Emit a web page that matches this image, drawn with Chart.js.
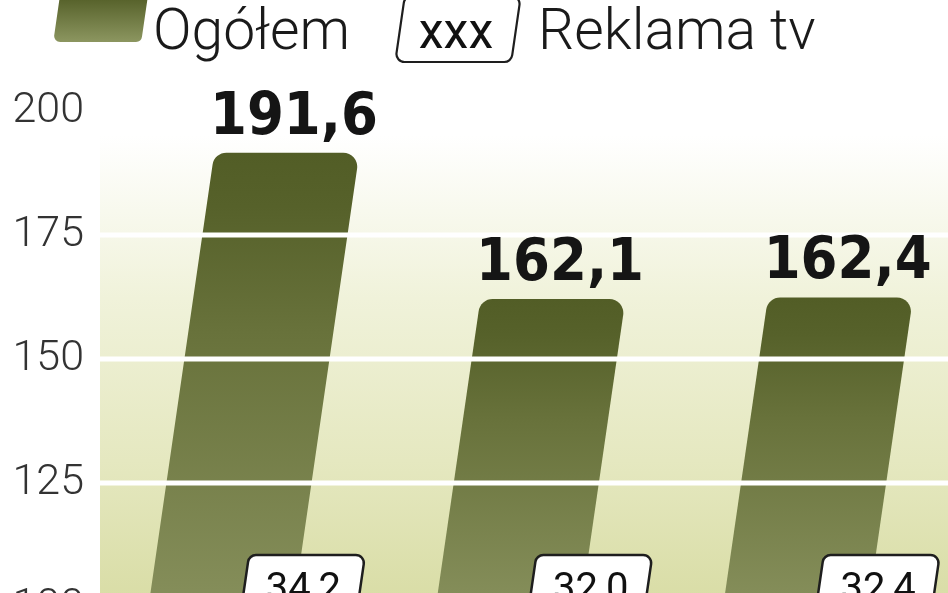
<!DOCTYPE html>
<html>
<head>
<meta charset="utf-8">
<script src="https://cdn.jsdelivr.net/npm/chart.js@4.4.1/dist/chart.umd.min.js"></script>
<style>
  html, body { margin: 0; padding: 0; background: #fff; overflow: hidden; }
  #wrap { width: 948px; height: 593px; overflow: hidden; }
</style>
</head>
<body>
<div id="wrap"><canvas id="chart"></canvas></div>
<script>
// data
const periods = ['okres 1', 'okres 2', 'okres 3']
const ogolem = [191.6, 162.1, 162.4]
const reklamaTv = [34.2, 32.0, 32.4]
const yTicks = [100, 125, 150, 175, 200]
const legendLabels = ['Ogółem', 'Reklama tv']

const SLANT = 0.145
const fmt = (v) => v.toFixed(1).replace('.', ',')

function roundedPoly(ctx, pts, r) {
  const n = pts.length
  ctx.beginPath()
  ctx.moveTo((pts[0].x + pts[n - 1].x) / 2, (pts[0].y + pts[n - 1].y) / 2)
  for (let i = 0; i < n; i++) {
    const p = pts[i]
    const q = pts[(i + 1) % n]
    ctx.arcTo(p.x, p.y, q.x, q.y, r[i])
  }
  ctx.closePath()
}

// slanted parallelogram, centre line given by cAt(y)
function slantPts(cAt, half, top, bottom) {
  return [
    { x: cAt(bottom) - half, y: bottom },
    { x: cAt(top) - half, y: top },
    { x: cAt(top) + half, y: top },
    { x: cAt(bottom) + half, y: bottom },
  ]
}

const decor = {
  id: 'decor',
  beforeDatasetsDraw(chart) {
    const { ctx } = chart
    const g = ctx.createLinearGradient(0, 135, 0, 600)
    g.addColorStop(0, '#ffffff')
    g.addColorStop(0.35, '#f0f2da')
    g.addColorStop(0.7, '#e5e8c0')
    g.addColorStop(1, '#d9dda6')
    ctx.save()
    ctx.fillStyle = g
    ctx.fillRect(100, 135, chart.width - 100, chart.height - 135)
    ctx.restore()
  },
  afterDatasetsDraw(chart) {
    const { ctx, chartArea } = chart
    const meta = chart.getDatasetMeta(0)
    const yScale = chart.scales.y
    const yRef = chartArea.bottom - 60

    ctx.save()
    // slanted bars, each with its own dark-to-light gradient
    meta.data.forEach((el) => {
      const half = el.width / 2
      const cAt = (yy) => el.x + SLANT * (yRef - yy)
      const pts = slantPts(cAt, half, el.y, chart.height + 20)
      const bg = ctx.createLinearGradient(0, el.y, 0, 600)
      bg.addColorStop(0, '#525d26')
      bg.addColorStop(0.12, '#56612a')
      bg.addColorStop(0.4, '#68723b')
      bg.addColorStop(1, '#858e5a')
      roundedPoly(ctx, pts, [0, 14, 14, 0])
      ctx.fillStyle = bg
      ctx.fill()
    })

    // white grid lines over the bars
    ctx.strokeStyle = '#ffffff'
    ctx.lineWidth = 5
    yTicks.forEach((t) => {
      const py = Math.round(yScale.getPixelForValue(t))
      ctx.beginPath()
      ctx.moveTo(100, py)
      ctx.lineTo(chart.width, py)
      ctx.stroke()
    })

    // value labels
    ctx.fillStyle = '#151515'
    ctx.textAlign = 'center'
    ctx.textBaseline = 'alphabetic'
    ctx.font = "bold 59px 'DejaVu Sans Condensed', 'DejaVu Sans', sans-serif"
    meta.data.forEach((el, i) => {
      const cAt = (yy) => el.x + SLANT * (yRef - yy)
      const ly = el.y - 19
      ctx.fillText(fmt(ogolem[i]), cAt(ly - 30), ly)
    })

    // Reklama tv boxes on the right edge of each bar
    meta.data.forEach((el, i) => {
      const half = el.width / 2
      const boxTop = 555
      const boxMid = 580
      const bx = el.x + SLANT * (yRef - boxMid) + half + 6
      const cAt = (yy) => bx + SLANT * (boxMid - yy)
      const pts = slantPts(cAt, 58, boxTop, boxTop + 50)
      roundedPoly(ctx, pts, [8, 8, 8, 8])
      ctx.fillStyle = '#ffffff'
      ctx.fill()
      ctx.lineWidth = 2.5
      ctx.strokeStyle = '#1e1e1e'
      ctx.stroke()
      ctx.fillStyle = '#111'
      ctx.font = "400 40px Roboto, sans-serif"
      ctx.fillText(fmt(reklamaTv[i]), bx, 601)
    })

    // legend
    const sw = ctx.createLinearGradient(0, 0, 0, 42)
    sw.addColorStop(0, '#58632c')
    sw.addColorStop(1, '#8c9660')
    const swC = (yy) => 101 + SLANT * (16 - yy)
    roundedPoly(ctx, slantPts(swC, 44, -12, 42), [6, 6, 6, 6])
    ctx.fillStyle = sw
    ctx.fill()

    ctx.textAlign = 'left'
    ctx.fillStyle = '#1a1a1a'
    ctx.font = "300 57px Roboto, sans-serif"
    ctx.fillText(legendLabels[0], 153, 49)

    const bxC = (yy) => 458 + SLANT * (29 - yy)
    roundedPoly(ctx, slantPts(bxC, 58, -4, 62), [8, 8, 8, 8])
    ctx.fillStyle = '#ffffff'
    ctx.fill()
    ctx.lineWidth = 2.2
    ctx.strokeStyle = '#1e1e1e'
    ctx.stroke()
    ctx.fillStyle = '#111'
    ctx.textAlign = 'center'
    ctx.font = "400 50px 'Liberation Sans Narrow', Roboto, sans-serif"
    ctx.fillText('xxx', 456, 48)

    ctx.textAlign = 'left'
    ctx.fillStyle = '#1a1a1a'
    ctx.font = "300 57px Roboto, sans-serif"
    ctx.fillText(legendLabels[1], 538, 49)
    ctx.restore()
  },
}

const ctx = document.getElementById('chart')
ctx.style.width = '948px'
ctx.style.height = '640px'

new Chart(ctx, {
  type: 'bar',
  data: {
    labels: periods,
    datasets: [
      {
        label: legendLabels[0],
        data: ogolem,
        backgroundColor: 'rgba(0,0,0,0)',
        barPercentage: 0.505,
        categoryPercentage: 1,
      },
    ],
  },
  options: {
    responsive: false,
    animation: false,
    layout: {
      padding: { top: 111, bottom: 33, left: 0, right: 0 },
    },
    plugins: {
      legend: { display: false },
      tooltip: { enabled: false },
    },
    scales: {
      x: { display: false },
      y: {
        min: 100,
        max: 200,
        afterFit(scale) {
          scale.width = 86
        },
        afterBuildTicks(scale) {
          scale.ticks = yTicks.map((v) => ({ value: v }))
        },
        border: { display: false },
        grid: { display: false, drawTicks: false },
        ticks: {
          padding: 2,
          color: '#333',
          font: { family: 'Roboto', size: 43, weight: '300' },
        },
      },
    },
  },
  plugins: [decor],
})
</script>
</body>
</html>
